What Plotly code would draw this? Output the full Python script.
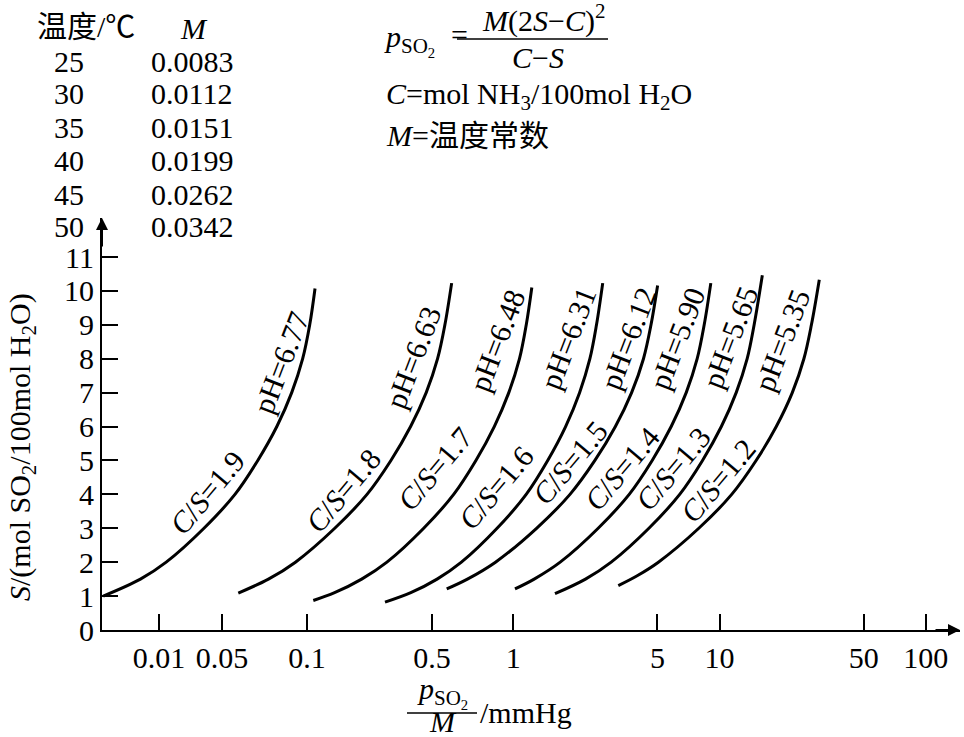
import numpy as np
import plotly.graph_objects as go

# 温度常数表
temps = ["25", "30", "35", "40", "45", "50"]
m_values = ["0.0083", "0.0112", "0.0151", "0.0199", "0.0262", "0.0342"]

# 曲线：C/S 比值与 pH
cs_ratio = ["1.9", "1.8", "1.7", "1.6", "1.5", "1.4", "1.3", "1.2"]
ph_values = ["6.77", "6.63", "6.48", "6.31", "6.12", "5.90", "5.65", "5.35"]

# S (mol SO2/100mol H2O) 与 p_SO2/M (mmHg)
s_19 = [1.0, 1.5, 2, 3, 4, 5, 6, 7, 8, 9, 10.07]
x_19 = [0.0103, 0.0156, 0.0208, 0.0317, 0.0448, 0.0578, 0.0715, 0.0844, 0.0954, 0.1032, 0.1095]
s_18 = [1.09, 1.5, 2, 3, 4, 5, 6, 7, 8, 9, 10.23]
x_18 = [0.0465, 0.0651, 0.0880, 0.1365, 0.1956, 0.2554, 0.3182, 0.3787, 0.4300, 0.4666, 0.5031]
s_17 = [0.87, 1.1, 1.5, 2, 3, 4, 5, 6, 7, 8, 9, 10.1]
x_17 = [0.1074, 0.1362, 0.1843, 0.2443, 0.3683, 0.5146, 0.6595, 0.8098, 0.9521, 1.073, 1.157, 1.231]
s_16 = [0.82, 1.1, 1.5, 2, 3, 4, 5, 6, 7, 8, 9, 10.23]
x_16 = [0.2391, 0.3189, 0.4276, 0.5610, 0.8354, 1.156, 1.470, 1.795, 2.098, 2.354, 2.534, 2.716]
s_15 = [1.21, 1.5, 2, 3, 4, 5, 6, 7, 8, 9, 10.16]
x_15 = [0.4761, 0.5998, 0.8208, 1.298, 1.885, 2.489, 3.129, 3.750, 4.281, 4.656, 5.012]
s_14 = [1.21, 1.5, 2, 3, 4, 5, 6, 7, 8, 9, 10.23]
x_14 = [1.020, 1.264, 1.690, 2.582, 3.650, 4.718, 5.834, 6.897, 7.796, 8.431, 9.076]
s_13 = [1.07, 1.5, 2, 3, 4, 5, 6, 7, 8, 9, 10.46]
x_13 = [1.594, 2.241, 2.986, 4.548, 6.413, 8.274, 10.21, 12.05, 13.62, 14.72, 16.13]
s_12 = [1.31, 1.6, 2, 3, 4, 5, 6, 7, 8, 9, 10.33]
x_12 = [3.232, 3.99, 5.056, 7.938, 11.46, 15.05, 18.85, 22.54, 25.65, 27.90, 30.46]

curves_s = [s_19, s_18, s_17, s_16, s_15, s_14, s_13, s_12]
curves_x = [x_19, x_18, x_17, x_16, x_15, x_14, x_13, x_12]

# 刻度：原图在 0.5 以下是压缩画的，标签按印刷位置放
x_tick_text = ["0.01", "0.05", "0.1", "0.5", "1", "5", "10", "50", "100"]
x_tick_vals = [0.0192, 0.0388, 0.1, 0.404, 1, 5, 10, 50, 100]
y_ticks = list(range(0, 12))

# 曲线标注位置 (p/M, S)
cs_label_x = [0.0328, 0.1496, 0.4176, 0.8253, 1.885, 3.369, 5.953, 9.833]
cs_label_y = [4.06, 4.12, 4.76, 4.20, 4.94, 4.76, 4.76, 4.41]
ph_label_x = [0.0749, 0.3267, 0.8345, 1.841, 3.601, 6.223, 11.24, 20.07]
ph_label_y = [7.89, 8.04, 8.54, 8.60, 8.60, 8.60, 8.63, 8.54]

W, H = 964, 737
L, R, T, B = 102, 4, 218, 107
FONT = "Liberation Serif, Noto Sans CJK SC, serif"
FS = 30


def paper(px, py):
    """像素位置 -> paper 坐标"""
    return (px - L) / (W - L - R), (H - B - py) / (H - T - B)


def text(px, py, s, xanchor="center", size=FS, angle=0):
    x, y = paper(px, py)
    return dict(x=x, y=y, xref="paper", yref="paper", text=s, showarrow=False,
                xanchor=xanchor, yanchor="middle", textangle=angle,
                font=dict(size=size, family=FONT, color="black"))


fig = go.Figure()
for s, xv in zip(curves_s, curves_x):
    fig.add_trace(go.Scatter(
        x=xv, y=s, mode="lines",
        line=dict(color="black", width=3, shape="spline"),
        showlegend=False, hoverinfo="skip", cliponaxis=False,
    ))

ann = []
for cs, px_, py_ in zip(cs_ratio, cs_label_x, cs_label_y):
    ann.append(dict(x=np.log10(px_), y=py_, xref="x", yref="y",
                    text=f"<i>C</i>/<i>S</i>={cs}", showarrow=False, textangle=-50,
                    font=dict(size=FS, family=FONT, color="black")))
for ph, px_, py_ in zip(ph_values, ph_label_x, ph_label_y):
    ann.append(dict(x=np.log10(px_), y=py_, xref="x", yref="y",
                    text=f"pH={ph}", showarrow=False, textangle=-69,
                    font=dict(size=FS, family=FONT, color="black")))

# 左上角温度表
ann.append(text(86, 26, "温度/℃"))
ann.append(text(194, 28, "<i>M</i>"))
row_y = [61, 94, 127, 161, 194, 226]
for t, m, ry in zip(temps, m_values, row_y):
    ann.append(text(69, ry, t))
    ann.append(text(149, ry, m, xanchor="left"))

# 公式
ann.append(text(382, 40, "<i>p</i><sub>SO<sub>2</sub></sub>", xanchor="left"))
ann.append(text(459, 34, "="))
ann.append(text(543, 18, "<i>M</i>(2<i>S</i>−<i>C</i>)<sup>2</sup>"))
ann.append(text(538, 58, "<i>C</i>−<i>S</i>"))
ann.append(text(384, 96, "<i>C</i>=mol NH<sub>3</sub>/100mol H<sub>2</sub>O", xanchor="left"))
ann.append(text(384, 135, "<i>M</i>=温度常数", xanchor="left"))

# 坐标轴标题
ann.append(text(22, 447, "<i>S</i>/(mol SO<sub>2</sub>/100mol H<sub>2</sub>O)", angle=-90))
ann.append(text(442, 692, "<i>p</i><sub>SO<sub>2</sub></sub>"))
ann.append(text(443, 721, "<i>M</i>"))
ann.append(text(478, 712, "/mmHg", xanchor="left"))

# 轴端箭头
ann.append(dict(x=1, y=0, xref="paper", yref="paper", ax=-26, ay=0, text="",
                showarrow=True, arrowhead=2, arrowsize=1.2, arrowwidth=2, arrowcolor="black"))
ann.append(dict(x=0, y=1, xref="paper", yref="paper", ax=0, ay=30, text="",
                showarrow=True, arrowhead=2, arrowsize=1.2, arrowwidth=2, arrowcolor="black"))

shapes = []
for x0, x1, yy in [(457, 608, 39), (407, 477, 713)]:
    a0, b0 = paper(x0, yy)
    a1, _ = paper(x1, yy)
    shapes.append(dict(type="line", xref="paper", yref="paper", x0=a0, x1=a1, y0=b0, y1=b0,
                       line=dict(color="black", width=1.5)))

fig.update_layout(
    width=W, height=H,
    margin=dict(l=L, r=R, t=T, b=B),
    plot_bgcolor="white", paper_bgcolor="white",
    font=dict(family=FONT, size=FS, color="black"),
    xaxis=dict(type="log", range=[-1.9932, 2.1658], automargin=False,
               tickvals=x_tick_vals, ticktext=x_tick_text,
               ticks="inside", ticklen=16, tickwidth=1.5, tickcolor="black",
               showline=True, linecolor="black", linewidth=2,
               showgrid=False, zeroline=False, tickfont=dict(size=FS)),
    yaxis=dict(range=[0, 12.15], tickvals=y_ticks, automargin=False,
               ticks="inside", ticklen=16, tickwidth=1.5, tickcolor="black",
               showline=True, linecolor="black", linewidth=2,
               showgrid=False, zeroline=False, tickfont=dict(size=FS)),
    annotations=ann,
    shapes=shapes,
)

# 页面 body 默认 8px 边距，去掉让图贴齐窗口
fig.write_html("out.html", config={"displayModeBar": False},
               post_script="document.body.style.margin='0';")
